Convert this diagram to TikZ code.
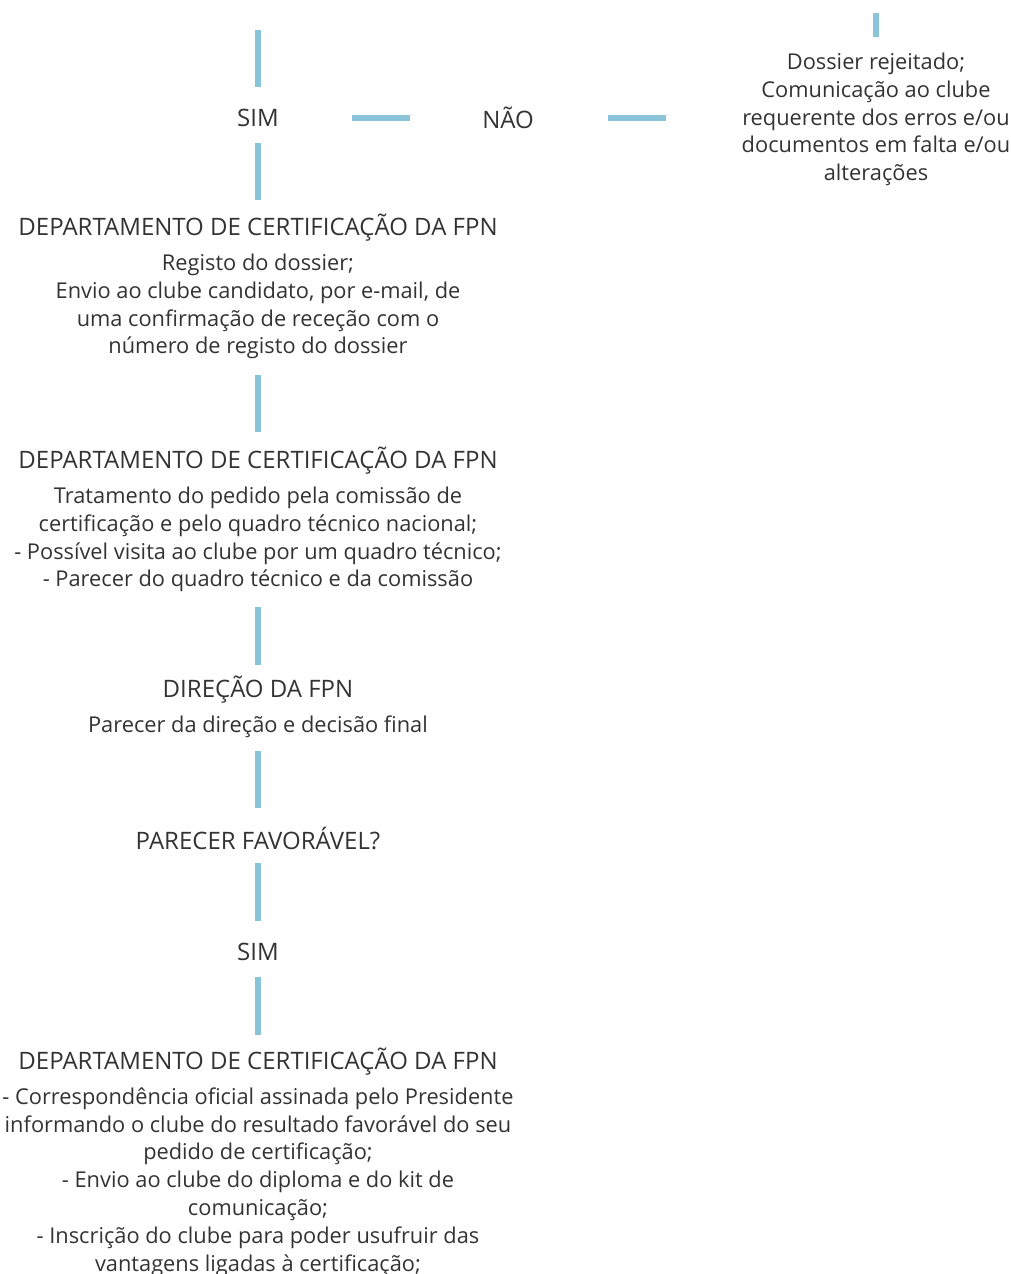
\documentclass[tikz,border=0pt]{standalone}
\usepackage{fontspec}
\setmainfont{Open Sans}
\definecolor{barblue}{HTML}{8AC4DB}
\definecolor{textgray}{HTML}{333333}
\tikzset{
  bar/.style={draw=barblue, line width=3pt},
  txt/.style={text=textgray, font=\fontsize{10.9}{13.9}\selectfont, align=center, inner sep=0pt},
  headtxt/.style={txt, font=\fontsize{12}{13.9}\selectfont},
}

\begin{document}
\begin{tikzpicture}[x=0.5pt, y=-0.5pt]
    \useasboundingbox (0,0) rectangle (1011,1274);

    % Decision on the dossier
    \coordinate (top) at (258,30);
    \coordinate (topright) at (876,13);
    \node[headtxt] (sim1) at (258,118) {SIM};
    \node[headtxt] (nao) at (508,118) {NÃO};
    \node[txt] (rejeitado) at (876,119.5) {Dossier rejeitado;\\ Comunicação ao clube\\ requerente dos erros e/ou\\ documentos em falta e/ou\\ alterações};

    % Steps
    \node[headtxt] (dep1) at (258,228) {DEPARTAMENTO DE CERTIFICAÇÃO DA FPN};
    \node[txt] (registo) at (258,306.5) {Registo do dossier;\\ Envio ao clube candidato, por e-mail, de\\ uma confirmação de receção com o\\ número de registo do dossier};
    \node[headtxt] (dep2) at (258,461) {DEPARTAMENTO DE CERTIFICAÇÃO DA FPN};
    \node[txt] (tratamento) at (258,539.5) {Tratamento do pedido pela comissão de\\ certificação e pelo quadro técnico nacional;\\ - Possível visita ao clube por um quadro técnico;\\ - Parecer do quadro técnico e da comissão};
    \node[headtxt] (direcao) at (258,690) {DIREÇÃO DA FPN};
    \node[txt] (decisao) at (258,727) {Parecer da direção e decisão final};
    \node[headtxt] (parecer) at (258,838) {PARECER FAVORÁVEL?};
    \node[headtxt] (sim2) at (258,952) {SIM};
    \node[headtxt] (dep3) at (258,1062) {DEPARTAMENTO DE CERTIFICAÇÃO DA FPN};
    \node[txt] (envio) at (258,1182) {- Correspondência oficial assinada pelo Presidente\\ informando o clube do resultado favorável do seu\\ pedido de certificação;\\ - Envio ao clube do diploma e do kit de\\ comunicação;\\ - Inscrição do clube para poder usufruir das\\ vantagens ligadas à certificação;};

    % Bars
    \draw[bar, shorten >=15.5pt] (top) -- (sim1.center);
    \draw[bar, shorten <=47pt, shorten >=49pt] (sim1.center) -- (nao.center);
    \draw[bar, shorten <=50pt, shorten >=105pt] (nao.center) -- (nao.center -| rejeitado.center);
    \draw[bar, shorten >=41.25pt] (topright) -- (rejeitado.center);
    \draw[bar, shorten <=12.5pt, shorten >=14pt] (sim1.center) -- (dep1.center);
    \draw[bar, shorten <=34.25pt, shorten >=14.5pt] (registo.center) -- (dep2.center);
    \draw[bar, shorten <=33.75pt, shorten >=12.5pt] (tratamento.center) -- (direcao.center);
    \draw[bar, shorten <=12pt, shorten >=15pt] (decisao.center) -- (parecer.center);
    \draw[bar, shorten <=12.5pt, shorten >=15.5pt] (parecer.center) -- (sim2.center);
    \draw[bar, shorten <=12.5pt, shorten >=13.5pt] (sim2.center) -- (dep3.center);
\end{tikzpicture}
\end{document}
